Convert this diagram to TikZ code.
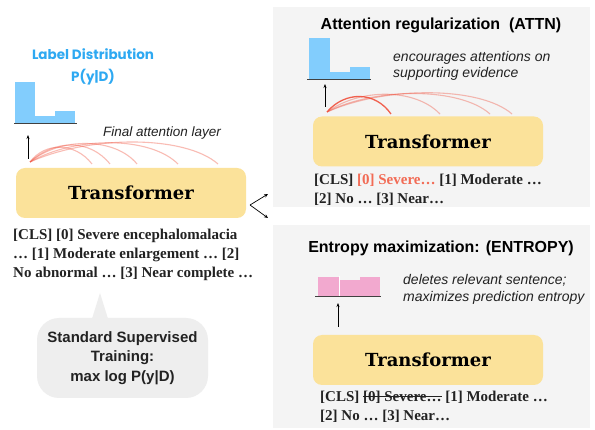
\documentclass[tikz,border=0pt]{standalone}
\usepackage{fontspec}
\setmainfont{Liberation Serif}
\setsansfont{Liberation Sans}
\newfontfamily\trfont{DejaVu Serif}
\newfontfamily\comicfont{Poppins}
\usetikzlibrary{arrows.meta}
\newsavebox\mystrkbox
\newcommand\mystrike[1]{\sbox\mystrkbox{#1}\rlap{\rule[0.3em]{\wd\mystrkbox}{0.07em}}\usebox\mystrkbox}
\definecolor{panelgray}{HTML}{F4F4F4}
\definecolor{bubblegray}{HTML}{EEEEEE}
\definecolor{boxyellow}{HTML}{FBE29A}
\definecolor{barblue}{HTML}{82CDFD}
\definecolor{barpink}{HTML}{F2A9CF}
\definecolor{labelblue}{HTML}{2EA9F2}
\definecolor{arcred}{HTML}{F0503C}
\definecolor{redtext}{HTML}{F26B55}
\definecolor{darktext}{HTML}{222222}
\begin{document}
\begin{tikzpicture}[x=1pt,y=-1pt,
  tbox/.style={fill=boxyellow, rounded corners=9pt, minimum width=230pt, minimum height=50pt, inner sep=0pt,
    font=\trfont\bfseries\fontsize{18}{20}\selectfont},
  serifline/.style={font=\bfseries\fontsize{15}{19}\selectfont, align=left, inner sep=0pt, anchor=north west, text=darktext},
  titlestyle/.style={font=\sffamily\bfseries\fontsize{16}{19}\selectfont, inner sep=0pt},
  note/.style={font=\sffamily\itshape\fontsize{14}{16.5}\selectfont, align=left, inner sep=0pt, anchor=west, text=darktext},
  uparrow/.style={-{Stealth[length=4pt,width=3pt]}, line width=0.7pt},
  arc/.style={arcred, line width=1.1pt, opacity=0.38},
  base/.style={draw=black!75, line width=1pt}
]
\useasboundingbox (0,0) rectangle (595,430);
\fill[white] (0,0) rectangle (595,430);
% panels
\fill[panelgray] (273,7) rectangle (590,207);
\fill[panelgray] (273,225) rectangle (590,428);

% ---------------- left part ----------------
\node[text=labelblue, font=\comicfont\bfseries\fontsize{13.5}{22}\selectfont, align=center, inner sep=0pt] (lbl) at (93,67) {Label Distribution\\P(y|D)};
% histogram
\fill[barblue] (15,82) rectangle (35,124);
\fill[barblue] (35,116) rectangle (55,124);
\fill[barblue] (55,111) rectangle (75,124);
\draw[base] (14,124) -- (77,124);
\node[tbox] (tl) at (131,193) {Transformer};
\coordinate (tlsrc) at (28,159);
\coordinate (tldst) at (28,135);
\draw[uparrow] (tlsrc) -- (tldst);
\node[font=\sffamily\itshape\fontsize{13.5}{16}\selectfont, inner sep=0pt, text=darktext] (fal) at (162,133) {Final attention layer};
% attention arcs
\coordinate (la) at (30,162);
\draw[arc] (la) .. controls (45,142) and (75,142) .. (92,164);
\draw[arc] (la) .. controls (60,137) and (115,137) .. (137,164);
\draw[arc] (la) .. controls (75,136) and (150,136) .. (178,164);
\draw[arc] (la) .. controls (90,135) and (185,135) .. (218,164);
\draw[arc] (la) .. controls (55,139) and (90,139) .. (110,164);
\node[serifline] (txl) at (13,229) {[CLS] [0] Severe encephalomalacia\\… [1] Moderate enlargement … [2]\\No abnormal … [3] Near complete …};
% speech bubble
\fill[bubblegray] (91,322) -- (100,293) -- (109,322) -- cycle;
\node[fill=bubblegray, rounded corners=22pt, minimum width=171pt, minimum height=80pt, inner sep=0pt,
  font=\sffamily\bfseries\fontsize{15}{19.5}\selectfont, align=center, text=darktext] (bub) at (122.5,358) {Standard Supervised\\Training:\\max log P(y|D)};
% fork arrows
\coordinate (fork) at (250,205);
\coordinate (toattn) at (268,194);
\coordinate (toent) at (268,218);
\draw[-{Stealth[length=4pt,width=3.5pt]}, line width=0.7pt] (fork) -- (toattn);
\draw[-{Stealth[length=4pt,width=3.5pt]}, line width=0.7pt] (fork) -- (toent);

% ---------------- top right ----------------
\node[titlestyle] (t1) at (441,25) {Attention regularization\ \ (ATTN)};
\fill[barblue] (309,38) rectangle (330,80);
\fill[barblue] (330,72) rectangle (350,80);
\fill[barblue] (350,67) rectangle (370,80);
\draw[base] (307,80) -- (371,80);
\node[note] (n1) at (393,66) {encourages attentions on\\supporting evidence};
\node[tbox] (tr) at (428,141.5) {Transformer};
\coordinate (trsrc) at (325,107);
\coordinate (trdst) at (325,84);
\draw[uparrow] (trsrc) -- (trdst);
\coordinate (ra) at (327,112);
\draw[arc] (ra) .. controls (360,88) and (415,88) .. (440,114);
\draw[arc] (ra) .. controls (375,87) and (460,87) .. (490,114);
\draw[arc] (ra) .. controls (385,86) and (480,86) .. (512,114);
\draw[arcred, line width=1.3pt, opacity=0.9] (ra) .. controls (345,91) and (375,91) .. (391,114);
\node[serifline] (txr) at (314,174) {[CLS] \textcolor{redtext}{[0] Severe…} [1] Moderate …\\{}[2] No … [3] Near…};

% ---------------- bottom right ----------------
\node[titlestyle] (t2) at (441,248) {Entropy maximization: (ENTROPY)};
\fill[barpink] (318,277) rectangle (339,297);
\fill[barpink] (339,280) rectangle (360,297);
\fill[barpink] (360,277) rectangle (380,297);
\draw[white, line width=0.8pt] (339,276) -- (339,296);
\draw[base] (315,297) -- (381,297);
\node[note] (n2) at (403,289.5) {deletes relevant sentence;\\maximizes prediction entropy};
\node[tbox] (tb) at (428,360) {Transformer};
\coordinate (tbsrc) at (338,327);
\coordinate (tbdst) at (338,303);
\draw[uparrow] (tbsrc) -- (tbdst);
\node[serifline] (txb) at (320,391) {[CLS] \mystrike{[0] Severe…} [1] Moderate …\\{}[2] No … [3] Near…};
\end{tikzpicture}
\end{document}
